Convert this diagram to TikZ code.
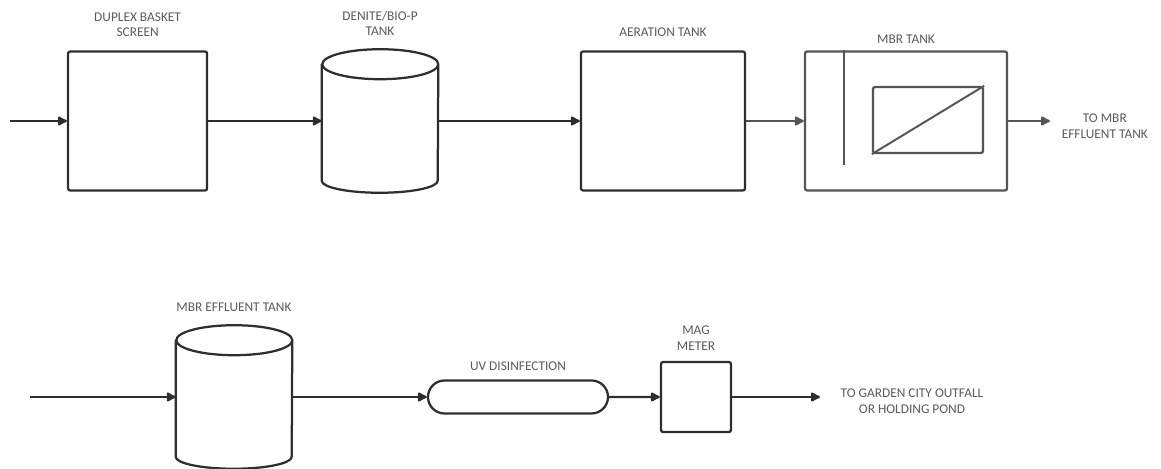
\documentclass[tikz,border=0pt]{standalone}
\usepackage{fontspec}
\setmainfont{Carlito}
\usetikzlibrary{arrows.meta,positioning,shapes.misc}
\definecolor{cline}{HTML}{2E2E2E}
\definecolor{cgray}{HTML}{555555}
\definecolor{ctext}{HTML}{5A5A5A}
\tikzset{
  every picture/.style={>={Latex[round,length=8pt,width=8pt]}, font=\fontsize{9.5}{11}\selectfont},
  unit/.style={draw=cline, line width=1.6pt, rounded corners=1.5pt, inner sep=0pt},
  tank/.style={minimum width=2.9cm, minimum height=3.575cm, inner sep=0pt},
  tankline/.style={draw=cline, line width=1.6pt, line join=round},
  uvpipe/.style={draw=cline, line width=1.6pt, rounded rectangle,
    minimum width=4.5cm, minimum height=0.825cm, inner sep=0pt},
  flow/.style={->, line width=1.5pt, cline},
  lbl/.style={text=ctext, align=center, inner sep=1pt},
}
% cylinder outline around a tank node
\newcommand{\tankoutline}[1]{%
  \draw[tankline] ([yshift=-0.375cm]#1.north west) -- ([yshift=0.3cm]#1.south west)
    arc[start angle=180, end angle=360, x radius=1.45cm, y radius=0.3cm]
    -- ([yshift=-0.375cm]#1.north east)
    arc[start angle=0, end angle=360, x radius=1.45cm, y radius=0.375cm];}

\begin{document}
\begin{tikzpicture}
  \path[use as bounding box] (0,0) rectangle (29.025,11.725);
  % top row: screening to membrane tank
  \node[unit, minimum width=3.475cm, minimum height=3.475cm] (screen) at (3.44,8.7) {};
  \node[tank] (denite) at (9.5,8.7) {};
  \tankoutline{denite}
  \node[unit, minimum width=4.1cm, minimum height=3.475cm] (aeration) at (16.575,8.7) {};
  \node[unit, draw=cgray, minimum width=5.05cm, minimum height=3.475cm] (mbr) at (22.65,8.7) {};
  \node[unit, draw=cgray, minimum width=2.75cm, minimum height=1.65cm] (membrane) at (23.2,8.725) {};
  \draw[cgray, line width=1.4pt] (membrane.south west) -- (membrane.north east);
  \coordinate (baffle) at (21.1,7.6);
  \draw[cgray, line width=1.6pt] (baffle |- mbr.north) -- (baffle);
  \coordinate (feed) at (0.25,8.7);
  \coordinate (mbrout) at (26.25,8.7);
  \node[lbl, above=0.3cm of screen] (screenlbl) {DUPLEX BASKET\\SCREEN};
  \node[lbl, above=0.3cm of denite] (denitelbl) {DENITE/BIO-P\\TANK};
  \node[lbl, above=0.3cm of aeration] (aerationlbl) {AERATION TANK};
  \node[lbl, above=0.12cm of mbr] (mbrlbl) {MBR TANK};
  \node[lbl] (tombr) at (27.62,8.575) {TO MBR\\EFFLUENT TANK};
  \draw[flow] (feed) -- (screen);
  \draw[flow] (screen) -- (denite);
  \draw[flow] (denite) -- (aeration);
  \draw[flow, cgray] (aeration) -- (mbr);
  \draw[flow, cgray] (mbr) -- (mbrout);
  % bottom row: effluent to outfall
  \node[tank] (efftank) at (5.85,1.8) {};
  \tankoutline{efftank}
  \node[uvpipe] (uv) at (12.95,1.8) {};
  \node[unit, minimum width=1.75cm, minimum height=1.75cm] (magmeter) at (17.4,1.8) {};
  \coordinate (feedb) at (0.75,1.8);
  \coordinate (outfall) at (20.5,1.8);
  \node[lbl, above=0.3cm of efftank] (efflbl) {MBR EFFLUENT TANK};
  \node[lbl, above=0.18cm of uv] (uvlbl) {UV DISINFECTION};
  \node[lbl, above=0.22cm of magmeter] (maglbl) {MAG\\METER};
  \node[lbl] (pond) at (22.8,1.7) {TO GARDEN CITY OUTFALL\\OR HOLDING POND};
  \draw[flow] (feedb) -- (efftank);
  \draw[flow] (efftank) -- (uv);
  \draw[flow] (uv) -- (magmeter);
  \draw[flow] (magmeter) -- (outfall);
\end{tikzpicture}
\end{document}
